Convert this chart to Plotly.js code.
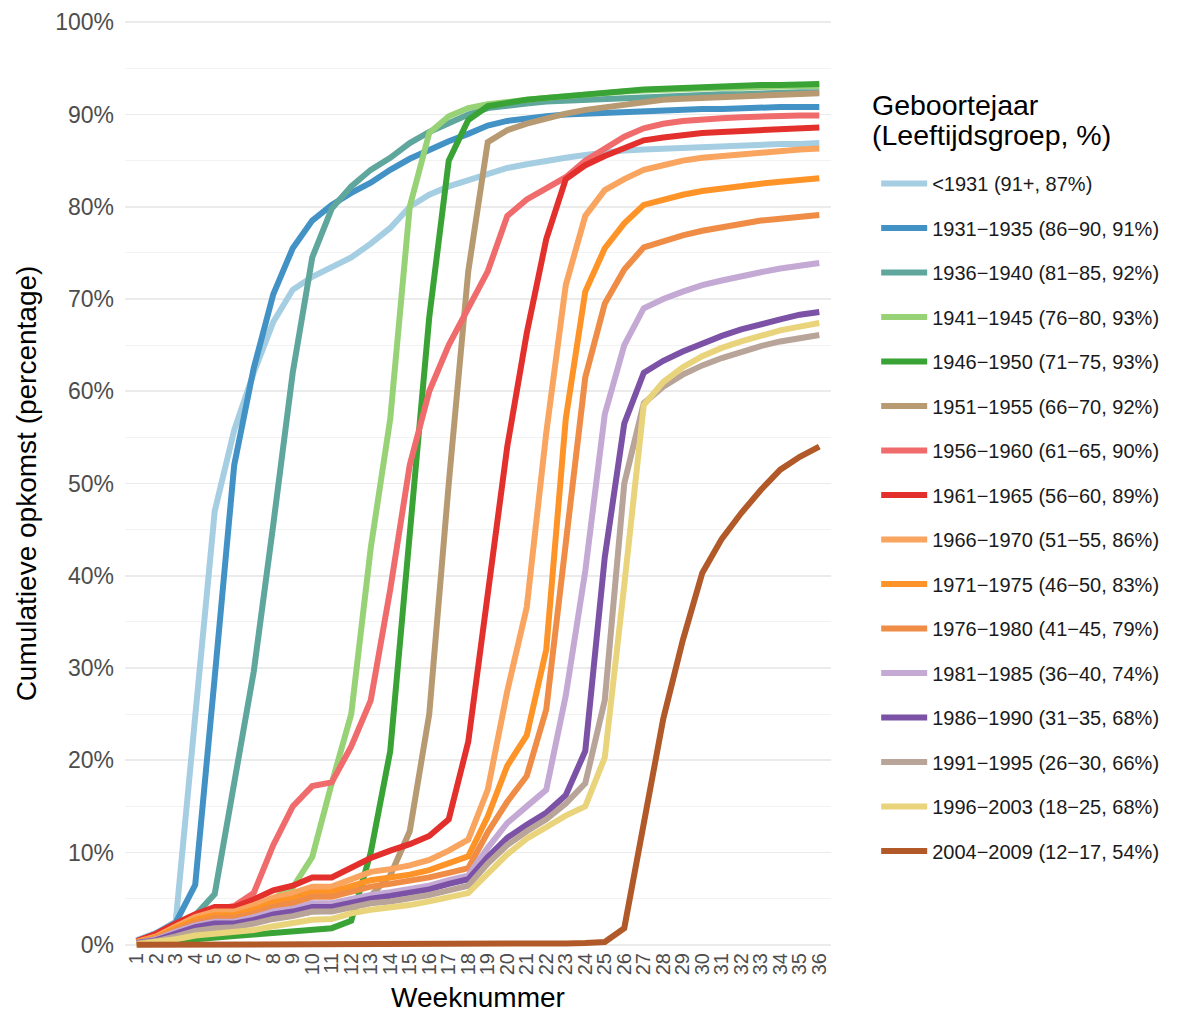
<!DOCTYPE html>
<html>
<head>
<meta charset="utf-8">
<script src="https://cdn.plot.ly/plotly-3.0.1.min.js"></script>
<style>html,body{margin:0;padding:0;background:#fff;}</style>
</head>
<body>
<div id="chart"></div>
<script>
const weeks = [1,2,3,4,5,6,7,8,9,10,11,12,13,14,15,16,17,18,19,20,21,22,23,24,25,26,27,28,29,30,31,32,33,34,35,36];
const weekLabels = weeks.map(String);

const legendTitleLines = ["Geboortejaar", "(Leeftijdsgroep, %)"];

const seriesNames = [
  "&lt;1931 (91+, 87%)",
  "1931\u22121935 (86\u221290, 91%)",
  "1936\u22121940 (81\u221285, 92%)",
  "1941\u22121945 (76\u221280, 93%)",
  "1946\u22121950 (71\u221275, 93%)",
  "1951\u22121955 (66\u221270, 92%)",
  "1956\u22121960 (61\u221265, 90%)",
  "1961\u22121965 (56\u221260, 89%)",
  "1966\u22121970 (51\u221255, 86%)",
  "1971\u22121975 (46\u221250, 83%)",
  "1976\u22121980 (41\u221245, 79%)",
  "1981\u22121985 (36\u221240, 74%)",
  "1986\u22121990 (31\u221235, 68%)",
  "1991\u22121995 (26\u221230, 66%)",
  "1996\u22122003 (18\u221225, 68%)",
  "2004\u22122009 (12\u221217, 54%)"
];

const s1931 = [0.5,1.3,2.5,24,47,55.8,62,67.5,71,72.4,73.5,74.5,76,77.7,80,81.3,82.2,82.9,83.5,84.2,84.6,85.0,85.3,85.6,85.9,86.1,86.2,86.3,86.4,86.5,86.6,86.7,86.7,86.8,86.8,86.9];
const s1931_35 = [0.4,1.2,2.4,6.5,29,52,62.5,70.5,75.5,78.5,80.2,81.5,82.6,84,85.2,86.2,87.1,87.9,88.8,89.3,89.6,89.8,90.0,90.1,90.2,90.3,90.4,90.5,90.5,90.6,90.6,90.7,90.7,90.8,90.8,90.8];
const s1936_40 = [0.35,1.0,2.2,3.2,5.5,17.3,29.6,45.5,62,74.5,79.8,82.2,84,85.3,86.9,88.1,89.1,90,90.7,91.0,91.2,91.4,91.5,91.6,91.7,91.8,91.9,92.0,92.0,92.1,92.2,92.2,92.3,92.3,92.4,92.4];
const s1941_45 = [0.3,0.8,1.8,2.7,3.4,3.5,4.1,5.0,6.2,9.5,17.5,25,43,57,80,88,89.8,90.7,91.1,91.4,91.6,91.8,92.0,92.2,92.3,92.5,92.6,92.7,92.8,92.8,92.9,92.9,93.0,93.0,93.1,93.1];
const s1946_50 = [0.05,0.15,0.35,0.6,0.85,0.95,1.1,1.3,1.5,1.7,1.8,2.6,10,21,44,68,85,89.4,90.9,91.3,91.6,91.8,92.0,92.2,92.4,92.6,92.7,92.8,92.9,93.0,93.1,93.1,93.2,93.2,93.3,93.3];
const s1951_55 = [0.3,0.6,1.1,1.6,1.9,2.0,2.4,2.9,3.2,3.6,3.7,4.3,5.3,7.5,12.3,25,50,73,87,88.3,89.0,89.6,90.1,90.5,90.8,91.1,91.4,91.6,91.7,91.8,91.9,92.0,92.1,92.2,92.2,92.3];
const s1956_60 = [0.3,1.0,2.2,3.1,3.8,4.2,5.6,10.8,15,17.2,17.6,21.5,26.5,38.5,52,60,65,69,73,79,80.8,82,83.2,85,86.3,87.6,88.5,89,89.3,89.5,89.6,89.7,89.8,89.8,89.9,89.9];
const s1961_65 = [0.4,1.2,2.3,3.3,4.1,4.1,4.9,5.9,6.4,7.3,7.3,8.4,9.4,10.2,10.9,11.8,13.6,22,38.5,54,66.3,76.5,83,84.5,85.5,86.3,87.2,87.5,87.8,88.0,88.1,88.2,88.3,88.4,88.5,88.6];
const s1966_70 = [0.3,0.9,2.0,3.0,3.6,3.6,4.3,5.1,5.6,6.3,6.3,7.1,7.9,8.2,8.6,9.2,10.2,11.4,16.8,27.5,36.6,55.5,71.5,79,81.8,83,84,84.5,85,85.3,85.5,85.7,85.9,86.0,86.2,86.3];
const s1971_75 = [0.3,0.8,1.8,2.7,3.2,3.2,3.8,4.6,5.0,5.7,5.7,6.4,7.0,7.3,7.6,8.1,8.9,9.6,13.9,19.4,22.7,32,57,70.8,75.5,78.2,80.2,80.8,81.3,81.7,82.0,82.3,82.5,82.7,82.9,83.1];
const s1976_80 = [0.2,0.7,1.6,2.4,2.9,2.9,3.4,4.1,4.5,5.2,5.2,5.8,6.3,6.6,6.9,7.3,7.8,8.3,12.2,15.5,18.3,25.5,43.5,61.5,69.5,73.2,75.6,76.3,76.9,77.4,77.8,78.2,78.5,78.7,78.9,79.1];
const s1981_85 = [0.2,0.6,1.4,2.1,2.5,2.5,3.0,3.6,3.9,4.5,4.5,5.0,5.4,5.7,6.0,6.4,7.0,7.5,10.5,13.2,15.0,16.8,27,40.5,57.5,65,69,70,70.8,71.5,72,72.5,72.9,73.3,73.6,73.9];
const s1986_90 = [0.2,0.5,1.2,1.9,2.3,2.3,2.7,3.3,3.6,4.1,4.1,4.6,5.0,5.3,5.6,6.0,6.6,7.1,9.5,11.6,13.0,14.3,16.2,21,42,56.5,62,63.3,64.3,65.2,66,66.7,67.3,67.8,68.3,68.6];
const s1991_95 = [0.15,0.4,0.9,1.5,1.8,1.9,2.3,2.8,3.1,3.6,3.6,4.1,4.5,4.7,5.0,5.4,5.9,6.4,8.8,10.8,12.3,13.6,15.3,17.5,26.5,50,58.7,60.5,61.8,62.8,63.6,64.3,64.9,65.4,65.8,66.1];
const s1996_03 = [0.05,0.25,0.6,1.0,1.2,1.3,1.6,2.0,2.3,2.7,2.8,3.4,3.8,4.0,4.3,4.7,5.1,5.6,7.7,9.8,11.5,12.7,14.0,15.0,20.3,39,58.5,61,62.6,63.8,64.7,65.4,66.0,66.6,67.0,67.4];
const s2004_09 = [0,0,0,0,0,0,0,0,0,0,0,0,0,0,0,0,0,0,0,0,0.05,0.1,0.15,0.2,0.3,1.8,13.5,24.5,33,40.3,44,46.8,49.3,51.5,52.9,54];

const seriesValues = [s1931,s1931_35,s1936_40,s1941_45,s1946_50,s1951_55,s1956_60,s1961_65,s1966_70,s1971_75,s1976_80,s1981_85,s1986_90,s1991_95,s1996_03,s2004_09];

const lineColors = ["#a6cee3","#4292c6","#5fa69d","#98d276","#3aa336","#b79a72","#f06b6b","#e3302c","#f9a45f","#fe9428","#ef8c45","#c3a9d4","#7b52a6","#b8a498","#e9d47c","#b15928"];

const FONT = "Liberation Sans, Arial, sans-serif";

const traces = seriesValues.map((vals, i) => ({
  type: "scatter",
  mode: "lines",
  x: weeks,
  y: vals,
  name: seriesNames[i],
  legendgroup: "g" + i,
  line: {color: lineColors[i], width: 6},
  hoverinfo: "skip"
}));

const layout = {
  width: 1179,
  height: 1013,
  margin: {l: 125, r: 348, t: 19, b: 65},
  paper_bgcolor: "#ffffff",
  plot_bgcolor: "#ffffff",
  font: {family: FONT, color: "#000000"},
  showlegend: true,
  xaxis: {
    range: [0.4, 36.6],
    tickmode: "array",
    tickvals: weeks,
    ticktext: weekLabels,
    tickangle: -90,
    tickfont: {size: 20, color: "#4d4d4d", family: FONT},
    showgrid: false,
    zeroline: false,
    showline: false,
    ticks: "",
    title: {text: "Weeknummer", font: {size: 28, color: "#000000", family: FONT}, standoff: 14}
  },
  yaxis: {
    range: [-0.35, 100.35],
    tick0: 0,
    dtick: 10,
    ticksuffix: "%",
    tickfont: {size: 23, color: "#4d4d4d", family: FONT},
    showgrid: true,
    gridcolor: "#ebebeb",
    gridwidth: 1.6,
    zeroline: false,
    showline: false,
    ticks: "",
    ticklabelstandoff: 10,
    minor: {dtick: 5, showgrid: true, gridcolor: "#f1f1f1", gridwidth: 0.9},
    title: {text: "Cumulatieve opkomst (percentage)", font: {size: 28, color: "#000000", family: FONT}, standoff: 10}
  },
  legend: {
    x: 1.064,
    xanchor: "left",
    y: 0.844,
    yanchor: "top",
    bgcolor: "rgba(0,0,0,0)",
    borderwidth: 0,
    font: {size: 20, color: "#1a1a1a", family: FONT},
    tracegroupgap: 15.5,
    itemwidth: 46,
    traceorder: "grouped"
  },
  annotations: [
    {xref: "paper", yref: "paper", x: 1.0555, y: 0.9074, xanchor: "left", yanchor: "middle",
     text: legendTitleLines[0], showarrow: false, align: "left",
     font: {size: 28.5, color: "#000000", family: FONT}},
    {xref: "paper", yref: "paper", x: 1.0555, y: 0.8755, xanchor: "left", yanchor: "middle",
     text: legendTitleLines[1], showarrow: false, align: "left",
     font: {size: 28.5, color: "#000000", family: FONT}}
  ]
};

Plotly.newPlot("chart", traces, layout, {displayModeBar: false, staticPlot: true});
</script>
</body>
</html>
